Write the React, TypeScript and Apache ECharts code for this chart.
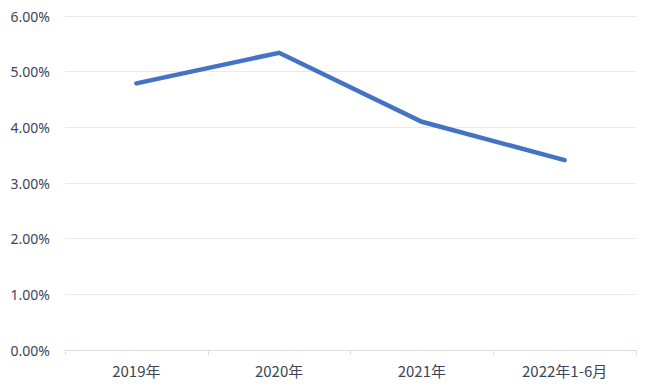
import React, { useEffect, useRef } from "react";
import * as echarts from "echarts";

const categories = ["2019年", "2020年", "2021年", "2022年1-6月"];
const rates = [4.79, 5.34, 4.1, 3.41];
const yTicks = [0, 1, 2, 3, 4, 5, 6];

export default function App() {
  const ref = useRef<HTMLDivElement>(null);
  useEffect(() => {
    if (!ref.current) return;
    const chart = echarts.init(ref.current, undefined, { renderer: "svg" });
    chart.setOption({
      animation: false,
      grid: { left: 65, right: 19, top: 16, bottom: 41 },
      xAxis: {
        type: "category",
        data: categories,
        boundaryGap: true,
        axisLine: { lineStyle: { color: "#d9dee6", width: 1 } },
        axisTick: { show: true, length: 5, lineStyle: { color: "#d9dee6" } },
        axisLabel: {
          color: "#3d4556",
          fontSize: 15,
          margin: 13,
          fontFamily: "'Noto Sans CJK SC', 'Noto Sans', sans-serif",
        },
      },
      yAxis: {
        type: "value",
        min: yTicks[0],
        max: yTicks[yTicks.length - 1],
        interval: 1,
        axisLine: { show: false },
        axisTick: { show: false },
        splitLine: { lineStyle: { color: "#e6e9ef", width: 1 } },
        axisLabel: {
          color: "#3d4556",
          fontSize: 14,
          margin: 15,
          fontFamily: "'Noto Sans', sans-serif",
          formatter: (v: number) => v.toFixed(2) + "%",
        },
      },
      series: [
        {
          type: "line",
          data: rates,
          symbol: "none",
          lineStyle: { color: "#4472c4", width: 4.5, cap: "round", join: "miter" },
          itemStyle: { color: "#4472c4" },
        },
      ],
    });
    return () => chart.dispose();
  }, []);
  return (
    <div
      ref={ref}
      style={{ position: "absolute", left: 0, top: 0, width: 655, height: 391 }}
    />
  );
}
